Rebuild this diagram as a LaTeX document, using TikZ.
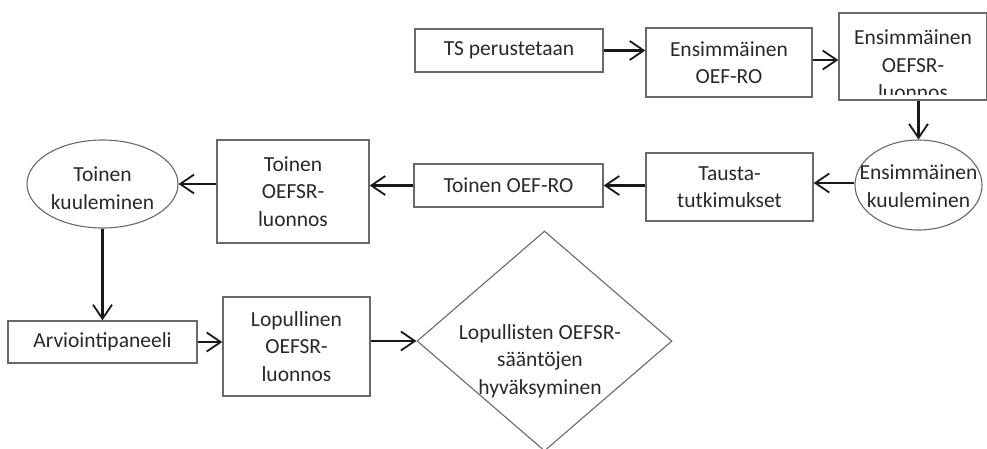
\documentclass[tikz,border=0pt]{standalone}
\usepackage{fontspec}
\setmainfont{Carlito}
\usetikzlibrary{shapes.geometric, arrows.meta}

\definecolor{edgegray}{RGB}{105,105,105}
\definecolor{inkgray}{RGB}{40,40,40}
\tikzset{
  txt/.style = {text = inkgray, align = center, inner sep = 0pt,
    font = \fontsize{21.5}{27.5}\selectfont},
  box/.style = {txt, draw = edgegray, line width = 1.4pt, rectangle},
  oval/.style = {txt, draw = edgegray, line width = 1.1pt, ellipse},
  rhomb/.style = {draw = edgegray, line width = 1.1pt, diamond, inner sep = 0pt},
  flow/.style = {black!90, line width = 2.2pt,
    -{Straight Barb[length=14pt, width=19pt, line width=1.8pt]}}
}

\begin{document}
\begin{tikzpicture}[x = 1pt, y = -1pt]
\useasboundingbox (0, 0) rectangle (987, 448);
\node[box, minimum width = 188, minimum height = 43] (ts) at (509, 50.5){TS perustetaan};
\node[box, minimum width = 166, minimum height = 69] (oefro1) at (729, 62.5){Ensimmäinen\\OEF-RO};
\node[box, minimum width = 148, minimum height = 87] (draft1) at (913, 56.5){};
\begin{scope}
\clip (draft1.north west) rectangle ([yshift = 6pt]draft1.south east);
\node[txt] (draft1Text) at (913, 65){Ensimmäinen\\OEFSR-\\luonnos};
\end{scope}
\node[oval, minimum width = 127, minimum height = 90] (hearing1) at (918.5, 185){};
\node[txt] (hearing1Text) at (918.5, 186){Ensimmäinen\\kuuleminen};
\node[box, minimum width = 167, minimum height = 68] (studies) at (729.5, 187){Tausta-\\tutkimukset};
\node[box, minimum width = 189, minimum height = 43] (oefro2) at (508.5, 185.5){Toinen OEF-RO};
\node[box, minimum width = 152, minimum height = 103] (draft2) at (293, 191.5){Toinen\\OEFSR-\\luonnos};
\node[oval, minimum width = 151, minimum height = 88] (hearing2) at (102.5, 184){};
\node[txt] (hearing2Text) at (102.5, 188){Toinen\\kuuleminen};
\node[box, minimum width = 189, minimum height = 42] (panel) at (102.5, 342){Arviointipaneeli};
\node[box, minimum width = 147, minimum height = 99] (draft3) at (296.5, 346.5){Lopullinen\\OEFSR-\\luonnos};
\node[rhomb, minimum width = 255, minimum height = 220] (accept) at (544.5, 341){};
\node[txt] (acceptText) at (540, 361){Lopullisten OEFSR-\\sääntöjen\\hyväksyminen};
\draw[flow] (ts.east) -- (ts.east -| oefro1.west);
\draw[flow] ([yshift = 2.5pt]oefro1.east) -- ([yshift = 2.5pt]oefro1.east -| draft1.west);
\draw[flow] (draft1.south -| hearing1.north) -- (hearing1.north);
\draw[flow] ([yshift = 2pt]hearing1.west) -- ([yshift = 2pt]hearing1.west -| studies.east);
\draw[flow] (studies.west |- oefro2.east) -- (oefro2.east);
\draw[flow] (oefro2.west) -- (oefro2.west -| draft2.east);
\draw[flow] (draft2.west |- hearing2.east) -- (hearing2.east);
\draw[flow] (hearing2.south) -- (panel.north);
\draw[flow] (panel.east) -- (panel.east -| draft3.west);
\draw[flow] (draft3.east |- accept.west) -- (accept.west);
\end{tikzpicture}
\end{document}
